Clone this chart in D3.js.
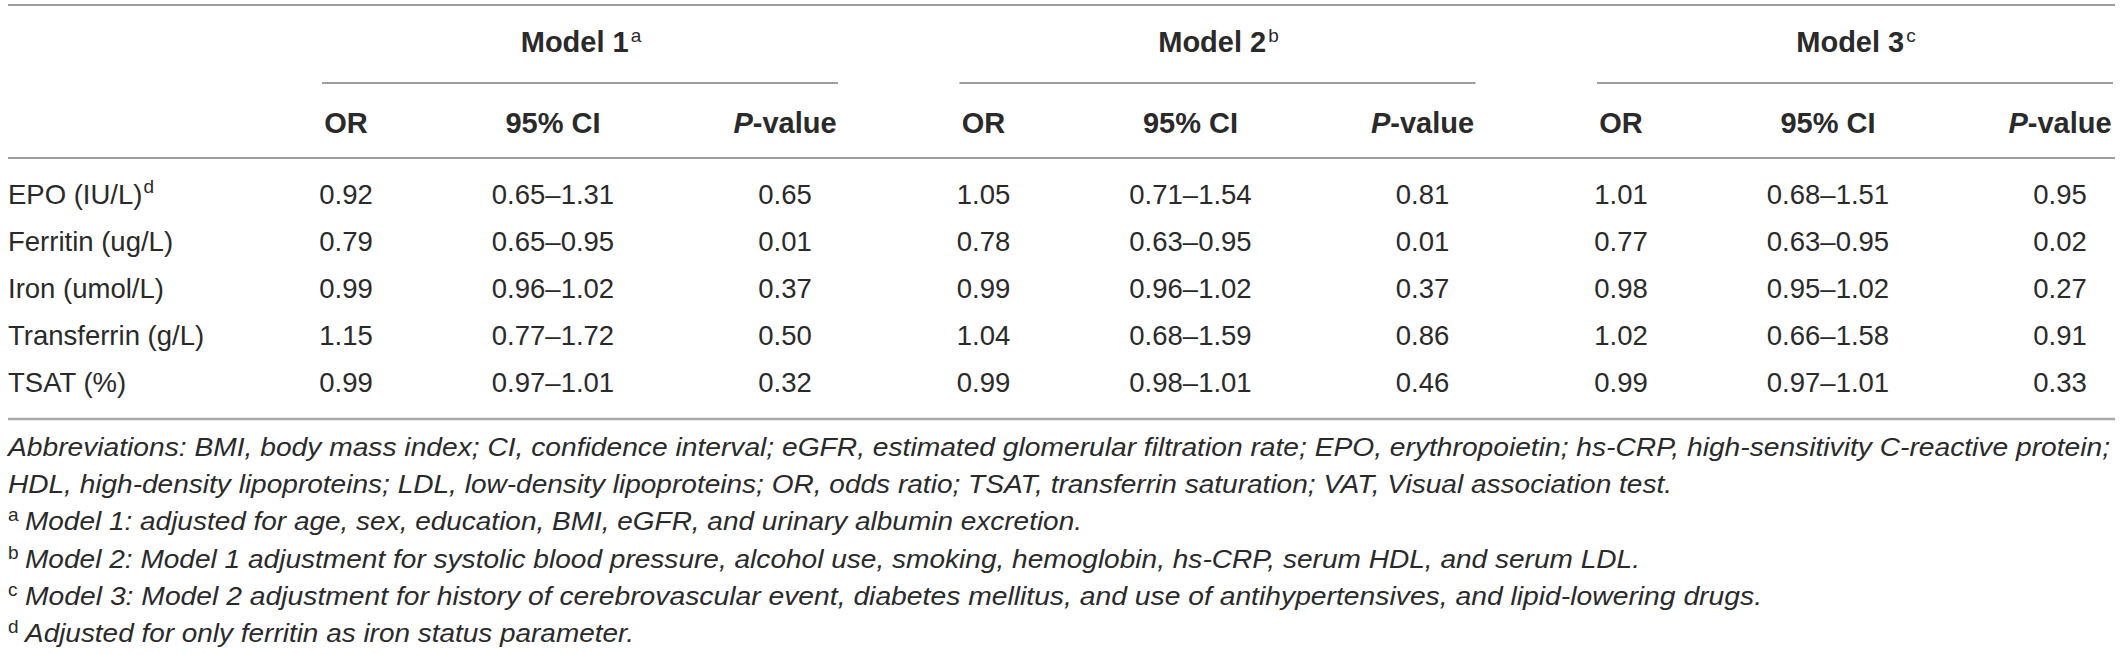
<!DOCTYPE html>
<html>
<head>
<meta charset="utf-8">
<script src="https://cdn.jsdelivr.net/npm/d3@7"></script>
<style>
  html, body { margin: 0; padding: 0; background: #fff; }
  svg { display: block; }
  text { font-family: "Liberation Sans", Arial, Helvetica, sans-serif; fill: #2a2a2a; }
</style>
</head>
<body>
<svg id="chart" width="2120" height="654"></svg>
<script>
// ---------- data ----------
const rowLabels = ["EPO (IU/L)", "Ferritin (ug/L)", "Iron (umol/L)", "Transferrin (g/L)", "TSAT (%)"];
const rowSups   = ["d", "", "", "", ""];
const models    = ["Model 1", "Model 2", "Model 3"];
const modelSups = ["a", "b", "c"];
const subHeaders = ["OR", "95% CI", "P-value"];

const model1OR = ["0.92", "0.79", "0.99", "1.15", "0.99"];
const model1CI = ["0.65–1.31", "0.65–0.95", "0.96–1.02", "0.77–1.72", "0.97–1.01"];
const model1P  = ["0.65", "0.01", "0.37", "0.50", "0.32"];

const model2OR = ["1.05", "0.78", "0.99", "1.04", "0.99"];
const model2CI = ["0.71–1.54", "0.63–0.95", "0.96–1.02", "0.68–1.59", "0.98–1.01"];
const model2P  = ["0.81", "0.01", "0.37", "0.86", "0.46"];

const model3OR = ["1.01", "0.77", "0.98", "1.02", "0.99"];
const model3CI = ["0.68–1.51", "0.63–0.95", "0.95–1.02", "0.66–1.58", "0.97–1.01"];
const model3P  = ["0.95", "0.02", "0.27", "0.91", "0.33"];

const footnoteSups = ["", "", "a", "b", "c", "d"];
const footnotes = [
  "Abbreviations: BMI, body mass index; CI, confidence interval; eGFR, estimated glomerular filtration rate; EPO, erythropoietin; hs-CRP, high-sensitivity C-reactive protein;",
  "HDL, high-density lipoproteins; LDL, low-density lipoproteins; OR, odds ratio; TSAT, transferrin saturation; VAT, Visual association test.",
  "Model 1: adjusted for age, sex, education, BMI, eGFR, and urinary albumin excretion.",
  "Model 2: Model 1 adjustment for systolic blood pressure, alcohol use, smoking, hemoglobin, hs-CRP, serum HDL, and serum LDL.",
  "Model 3: Model 2 adjustment for history of cerebrovascular event, diabetes mellitus, and use of antihypertensives, and lipid-lowering drugs.",
  "Adjusted for only ferritin as iron status parameter."
];

// table built from the arrays
const modelValues = [
  [model1OR, model1CI, model1P],
  [model2OR, model2CI, model2P],
  [model3OR, model3CI, model3P]
];

// ---------- layout ----------
const svg = d3.select("#chart");
const left = 8, right = 2115;
const yTop = 5, yModelRule = 83, yHeadRule = 158, yBottom = 419;
const modelWidth = 516;
// right end (px) of each footnote line as laid out in the source
const footnoteRightEdges = [2110, 1672, 1082, 1640, 1762, 634];
const footnoteIndent = 25;

const xModel = d3.scalePoint().domain(models).range([322, 1597]);
const xSub = d3.scaleOrdinal().domain(subHeaders).range([24, 231, 463]);
const yRow = d3.scaleBand().domain(rowLabels).range([yHeadRule + 13, yBottom - 13]);

const ruleColor = "#7d7d7d";

// rules
svg.append("line").attr("x1", left).attr("x2", right).attr("y1", yTop).attr("y2", yTop)
  .attr("stroke", ruleColor).attr("stroke-width", 1.6);
svg.append("line").attr("x1", left).attr("x2", right).attr("y1", yHeadRule).attr("y2", yHeadRule)
  .attr("stroke", ruleColor).attr("stroke-width", 1.6);
svg.append("line").attr("x1", left).attr("x2", right).attr("y1", yBottom).attr("y2", yBottom)
  .attr("stroke", "#a8a8a8").attr("stroke-width", 2.6);

svg.selectAll("line.model").data(models).join("line")
  .attr("class", "model")
  .attr("x1", d => xModel(d))
  .attr("x2", d => Math.min(xModel(d) + modelWidth, right))
  .attr("y1", yModelRule).attr("y2", yModelRule)
  .attr("stroke", ruleColor).attr("stroke-width", 1.6);

// model headers
const mh = svg.selectAll("text.modelhead").data(models).join("text")
  .attr("class", "modelhead")
  .attr("x", d => xModel(d) + modelWidth / 2 + 1)
  .attr("y", 52)
  .attr("text-anchor", "middle")
  .style("font-size", "29px").style("font-weight", "bold");
mh.append("tspan").text(d => d);
mh.append("tspan").text((d, i) => modelSups[i])
  .attr("dx", 2).attr("dy", -10)
  .style("font-size", "19px").style("font-weight", "normal");

// sub headers
models.forEach((m, mi) => {
  const sh = svg.selectAll("text.sub" + mi).data(subHeaders).join("text")
    .attr("class", "sub" + mi)
    .attr("x", d => xModel(m) + xSub(d))
    .attr("y", 133)
    .attr("text-anchor", "middle")
    .style("font-size", "29px").style("font-weight", "bold");
  sh.each(function(d) {
    const t = d3.select(this);
    if (d.startsWith("P-")) {
      t.append("tspan").text("P").style("font-style", "italic");
      t.append("tspan").text(d.slice(1));
    } else {
      t.text(d);
    }
  });
});

// row labels
const rl = svg.selectAll("text.rowlabel").data(rowLabels).join("text")
  .attr("class", "rowlabel")
  .attr("x", left)
  .attr("y", d => yRow(d) + yRow.bandwidth() / 2)
  .attr("dy", "0.35em")
  .style("font-size", "27.5px");
rl.append("tspan").text(d => d);
rl.append("tspan").text((d, i) => rowSups[i])
  .attr("dx", 1).attr("dy", -11)
  .style("font-size", "19px");

// cell values
models.forEach((m, mi) => {
  subHeaders.forEach((s, si) => {
    const vals = modelValues[mi][si];
    svg.selectAll(`text.v${mi}${si}`).data(vals).join("text")
      .attr("class", `v${mi}${si}`)
      .attr("x", xModel(m) + xSub(s))
      .attr("y", (d, i) => yRow(rowLabels[i]) + yRow.bandwidth() / 2)
      .attr("dy", "0.35em")
      .attr("text-anchor", "middle")
      .style("font-size", "27.5px")
      .text(d => d);
  });
});

// footnotes
const fnY = d3.scaleLinear().domain([0, footnotes.length - 1]).range([456, 642]);
const fn = svg.selectAll("text.fn").data(footnotes).join("text")
  .attr("class", "fn")
  .attr("x", left)
  .attr("y", (d, i) => fnY(i))
  .style("font-size", "25.5px");
fn.each(function(d, i) {
  const t = d3.select(this);
  const startX = footnoteSups[i] ? footnoteIndent : left;
  if (footnoteSups[i]) {
    t.append("tspan").text(footnoteSups[i]).attr("dy", -9).style("font-size", "19px");
  }
  t.append("tspan").text(d)
    .attr("x", startX)
    .attr("dy", footnoteSups[i] ? 9 : 0)
    .style("font-style", "italic")
    .attr("textLength", footnoteRightEdges[i] - startX)
    .attr("lengthAdjust", "spacingAndGlyphs");
});
</script>
</body>
</html>
